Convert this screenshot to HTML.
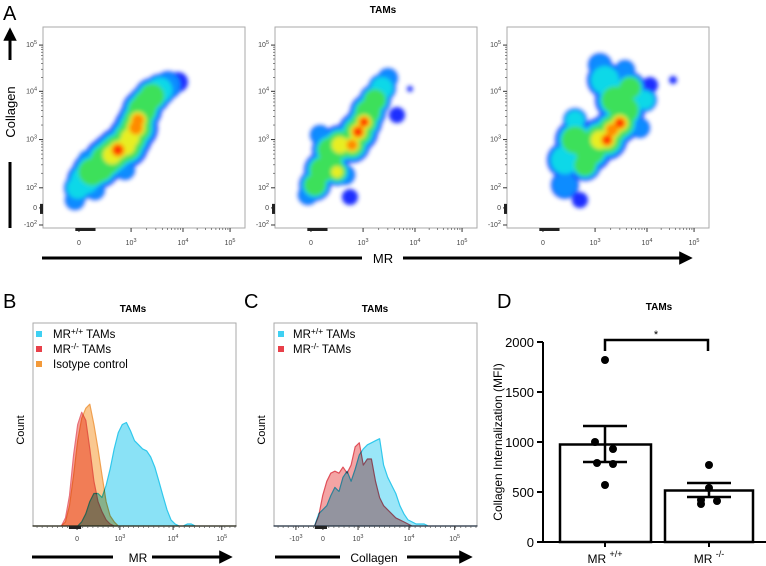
<!DOCTYPE html>
<html><head><meta charset="utf-8">
<style>
html,body{margin:0;padding:0;background:#fff;}
svg{display:block;font-family:"Liberation Sans",Arial,sans-serif;}
.tk{font-size:7px;fill:#444;}
</style></head>
<body>
<svg id="fig" width="766" height="566" viewBox="0 0 766 566" xmlns="http://www.w3.org/2000/svg">
<defs>
<filter id="soft" x="-20%" y="-20%" width="140%" height="140%"><feGaussianBlur stdDeviation="2"/></filter>
<marker id="ah" viewBox="0 0 10 10" refX="8" refY="5" markerWidth="4.5" markerHeight="4.5" orient="auto"><path d="M0,0 L10,5 L0,10 z" fill="#000"/></marker>
</defs>

<text x="3" y="20" font-size="20">A</text>
<text x="383" y="13" font-size="10" font-weight="bold" text-anchor="middle">TAMs</text>
<g>
<line x1="10" y1="60" x2="10" y2="30" stroke="#000" stroke-width="3" marker-end="url(#ah)"/>
<text transform="translate(15,112) rotate(-90)" font-size="13" text-anchor="middle">Collagen</text>
<line x1="10" y1="162" x2="10" y2="228" stroke="#000" stroke-width="3"/>
</g>
<g>
<line x1="42" y1="258" x2="362" y2="258" stroke="#000" stroke-width="3"/>
<text x="383" y="263" font-size="13" text-anchor="middle">MR</text>
<line x1="403" y1="258" x2="690" y2="258" stroke="#000" stroke-width="3" marker-end="url(#ah)"/>
</g>
<g id="panelA"></g>

<text x="3" y="308" font-size="20">B</text>
<text x="133" y="312" font-size="10" font-weight="bold" text-anchor="middle">TAMs</text>
<text transform="translate(24,430) rotate(-90)" font-size="11" text-anchor="middle">Count</text>
<g id="panelB"></g>
<g font-size="11.5">
<rect x="36" y="331" width="6" height="6" fill="#3fd0f2"/>
<text x="53" y="338">MR<tspan dy="-4" font-size="8.5">+/+</tspan><tspan dy="4"> TAMs</tspan></text>
<rect x="36" y="346" width="6" height="6" fill="#e8404a"/>
<text x="53" y="353">MR<tspan dy="-4" font-size="8.5">-/-</tspan><tspan dy="4"> TAMs</tspan></text>
<rect x="36" y="361" width="6" height="6" fill="#f39a3a"/>
<text x="53" y="368">Isotype control</text>
</g>
<g>
<line x1="32" y1="557" x2="113" y2="557" stroke="#000" stroke-width="3"/>
<text x="138" y="562" font-size="12" text-anchor="middle">MR</text>
<line x1="152" y1="557" x2="230" y2="557" stroke="#000" stroke-width="3" marker-end="url(#ah)"/>
</g>

<text x="244" y="308" font-size="20">C</text>
<text x="375" y="312" font-size="10" font-weight="bold" text-anchor="middle">TAMs</text>
<text transform="translate(265,430) rotate(-90)" font-size="11" text-anchor="middle">Count</text>
<g id="panelC"></g>
<g font-size="11.5">
<rect x="278" y="331" width="6" height="6" fill="#3fd0f2"/>
<text x="293" y="338">MR<tspan dy="-4" font-size="8.5">+/+</tspan><tspan dy="4"> TAMs</tspan></text>
<rect x="278" y="346" width="6" height="6" fill="#e8404a"/>
<text x="293" y="353">MR<tspan dy="-4" font-size="8.5">-/-</tspan><tspan dy="4"> TAMs</tspan></text>
</g>
<g>
<line x1="275" y1="557" x2="340" y2="557" stroke="#000" stroke-width="3"/>
<text x="374" y="562" font-size="12" text-anchor="middle">Collagen</text>
<line x1="407" y1="557" x2="470" y2="557" stroke="#000" stroke-width="3" marker-end="url(#ah)"/>
</g>

<text x="497" y="308" font-size="20">D</text>
<text x="659" y="310" font-size="10" font-weight="bold" text-anchor="middle">TAMs</text>
<text transform="translate(502,442) rotate(-90)" font-size="12" text-anchor="middle">Collagen Internalization (MFI)</text>
<g id="panelD"></g>
</svg>

<script>
var NS='http://www.w3.org/2000/svg';
function mk(tag,attrs,parent){var e=document.createElementNS(NS,tag);for(var k in attrs)e.setAttribute(k,attrs[k]);if(parent)parent.appendChild(e);return e;}

/* Panel A density data (channel coords 0..1) [x, y, radius, density] */
var densityPlot1=[[.158,.139,.050,.1],[.173,.199,.069,.2],[.208,.239,.089,.3],[.243,.279,.099,.45],[.282,.299,.099,.6],[.312,.338,.109,.65],[.342,.363,.109,.8],[.371,.388,.109,.95],[.411,.408,.109,.8],[.431,.448,.109,.7],[.460,.498,.109,.9],[.470,.537,.099,.85],[.490,.587,.099,.6],[.510,.622,.089,.6],[.540,.657,.089,.4],[.579,.687,.079,.25],[.619,.711,.069,.15],[.668,.726,.050,.05],[.257,.189,.050,.1],[.223,.338,.050,.1],[.406,.289,.050,.1]];
var densityPlot2=[[.163,.164,.05,.15],[.198,.214,.079,.45],[.233,.289,.089,.6],[.272,.313,.089,.55],[.307,.279,.069,.7],[.272,.388,.089,.5],[.322,.413,.099,.7],[.381,.413,.089,.9],[.411,.478,.099,.95],[.441,.527,.089,1.0],[.460,.577,.089,.6],[.495,.637,.079,.5],[.530,.697,.069,.3],[.559,.746,.050,.15],[.371,.154,.040,0],[.604,.562,.040,0],[.668,.692,.015,0],[.223,.463,.050,.1],[.347,.264,.050,.1]];
var densityPlot3=[[.287,.214,.069,.15],[.287,.338,.089,.3],[.337,.438,.099,.4],[.386,.313,.079,.45],[.411,.388,.109,.6],[.460,.438,.109,.75],[.495,.438,.099,.95],[.520,.488,.099,.85],[.559,.522,.099,1.0],[.584,.587,.099,.6],[.535,.637,.099,.45],[.609,.697,.079,.45],[.485,.736,.089,.3],[.460,.811,.059,.1],[.584,.786,.050,.1],[.683,.637,.059,.25],[.708,.711,.040,.05],[.361,.139,.040,0],[.822,.736,.020,0],[.658,.498,.050,.1],[.337,.537,.059,.2]];
var densityLevels=['#1a2dff','#0a8cff','#10d8e8','#3ee05a','#e8ee20','#ff8a00','#ff2a00'];
var densityThresholds=[0,.1,.2,.35,.7,.82,.92];
var densityRadiusFactor=[1,.88,.78,.68,.42,.3,.2];
var scatterXTickLabels=['0','10^3','10^4','10^5'];
var scatterXTickVals=[.178,.436,.693,.926];
var scatterYTickLabels=['-10^2','0','10^2','10^3','10^4','10^5'];
var scatterYTickVals=[.015,.10,.20,.44,.68,.91];

/* Histograms (channel 0..1, bins step 0.02 from start) */
var histStep=0.02;
var histBStart=0.14;
var histBCyan=[0,0,0,0,0,.02,.06,.12,.16,.16,.14,.2,.28,.38,.46,.5,.51,.47,.42,.4,.38,.37,.34,.29,.22,.15,.08,.03,.01,0,0,.01,.01,0,0];
var histBRed=[0,.04,.15,.35,.5,.56,.52,.38,.22,.12,.07,.03,.01,0];
var histBOrange=[0,.02,.1,.25,.42,.53,.58,.6,.5,.38,.25,.12,.05,.02,0];
var histBTickLabels=['0','10^3','10^4','10^5'];
var histBTickVals=[.217,.428,.69,.93];
var histCStart=0.20;
var histCCyan=[0,.06,.08,.10,.15,.19,.17,.24,.27,.22,.28,.35,.38,.4,.41,.42,.43,.3,.24,.2,.16,.1,.06,.03,.02,.01,.01,.01,0];
var histCRed=[0,.05,.15,.22,.26,.27,.26,.29,.26,.3,.39,.41,.3,.33,.33,.22,.14,.1,.08,.06,.04,.03,.02,.01,0];
var histCTickLabels=['-10^3','0','10^3','10^4','10^5'];
var histCTickVals=[.108,.241,.414,.665,.89];

/* Panel D bar chart */
var barCategories=['+/+','-/-'];
var barMeans=[975,515];
var barSemLow=[800,450];
var barSemHigh=[1160,590];
var pointsWT=[1820,1000,930,790,780,570];
var pointsKO=[770,540,420,410,380];
var yTicks=[0,500,1000,1500,2000];

function tickText(g,x,y,lab,anchor){
  var t=mk('text',{x:x,y:y,'class':'tk','text-anchor':anchor},g);
  
  
  var p=lab.split('^');
  if(p.length===1){t.textContent=p[0];}
  else{var a=mk('tspan',{},t);a.textContent=p[0];var b=mk('tspan',{dy:-3,'font-size':5.5},t);b.textContent=p[1];}
}

function scatter(parent,left,data,idx){
  var top=27,w=202,h=201;
  var g=mk('g',{},parent);
  
  
  var sx=function(c){return left+c*w;}, sy=function(c){return top+h-c*h;};
  var fr=mk('rect',{x:left,y:top,width:w,height:h,fill:'#fff',stroke:'#aaa','stroke-width':1},g);
  
  
  var dg=mk('g',{filter:'url(#soft)'},g);
  
  
  for(var k=0;k<densityLevels.length;k++){
    data.forEach(function(b){
      if(b[3]>=densityThresholds[k]-1e-9){
        var r=b[2]*w*densityRadiusFactor[k];
        var c=mk('circle',{cx:sx(b[0]),cy:sy(b[1]),r:r,fill:densityLevels[k]},dg);
        
        
      }
    });
  }
  scatterXTickVals.forEach(function(v,i){
    mk('line',{x1:sx(v),x2:sx(v),y1:top+h,y2:top+h+4,stroke:'#333','stroke-width':1},g);
    tickText(g,sx(v),top+h+17,scatterXTickLabels[i],'middle');
    if(i>1){for(var m=2;m<10;m++){var xv=scatterXTickVals[i-1]+(v-scatterXTickVals[i-1])*Math.log10(m);mk('line',{x1:sx(xv),x2:sx(xv),y1:top+h,y2:top+h+2,stroke:'#555','stroke-width':.7},g);}}
  });
  mk('rect',{x:sx(.16),y:top+h,width:.10*w,height:3,fill:'#222'},g);
  scatterYTickVals.forEach(function(v,i){
    mk('line',{x1:left-4,x2:left,y1:sy(v),y2:sy(v),stroke:'#333','stroke-width':1},g);
    tickText(g,left-6,sy(v)+2,scatterYTickLabels[i],'end');
    if(i>2){for(var m=2;m<10;m++){var yv=scatterYTickVals[i-1]+(v-scatterYTickVals[i-1])*Math.log10(m);mk('line',{x1:left-2,x2:left,y1:sy(yv),y2:sy(yv),stroke:'#555','stroke-width':.7},g);}}
  });
  mk('rect',{x:left-3,y:sy(.12),width:3,height:.05*h,fill:'#222'},g);
}
var pA=document.getElementById('panelA');
scatter(pA,43,densityPlot1,1);
scatter(pA,275,densityPlot2,2);
scatter(pA,507,densityPlot3,3);

function hist(parent,left,series,colors,fills,names,start,tv,tl,idx){
  var top=323,w=203,h=203;
  var g=mk('g',{},parent);
  
  
  var sx=function(c){return left+c*w;}, sy=function(v){return top+h-v*h;};
  var fr=mk('rect',{x:left,y:top,width:w,height:h,fill:'#fff',stroke:'#aaa','stroke-width':1},g);
  
  
  series.forEach(function(s,si){
    var d='M'+sx(0)+','+sy(0)+' L'+sx(start)+','+sy(0);
    s.forEach(function(v,i){d+=' L'+sx(start+i*histStep).toFixed(1)+','+sy(v).toFixed(1);});
    d+=' L'+sx(1)+','+sy(0)+' Z';
    var p=mk('path',{d:d,fill:fills[si],stroke:colors[si],'stroke-width':1.2,'stroke-linejoin':'round',style:'mix-blend-mode:multiply'},g);
    
    
  });
  tv.forEach(function(v,i){
    mk('line',{x1:sx(v),x2:sx(v),y1:top+h,y2:top+h+4,stroke:'#333','stroke-width':1},g);
    tickText(g,sx(v),top+h+15,tl[i],'middle');
  });
  for(var c=0.02;c<1;c+=0.025){mk('line',{x1:sx(c),x2:sx(c),y1:top+h,y2:top+h+2,stroke:'#555','stroke-width':.7},g);}
  mk('rect',{x:sx(tv[tl.indexOf('0')]-.04),y:top+h,width:.06*w,height:3,fill:'#222'},g);
}
hist(document.getElementById('panelB'),33,[histBRed,histBOrange,histBCyan],['#e8707a','#f0a050','#30c8ec'],['#f6a098','#fac890','#8ae2f6'],['mr-ko-histogram','isotype-histogram','mr-wt-histogram'],histBStart,histBTickVals,histBTickLabels,'b');
hist(document.getElementById('panelC'),274,[histCRed,histCCyan],['#e0505a','#30c8ec'],['#f4a4a4','#9ae6f8'],['mr-ko-histogram','mr-wt-histogram'],histCStart,histCTickVals,histCTickLabels,'c');

(function(){
  var g=document.getElementById('panelD');
  var y0=542;
  var sy=function(v){return y0-v*0.1;};
  var barLeft=[560,665], barW=[91,88];
  var centers=[605,709];
  var ax=mk('line',{x1:543,x2:543,y1:sy(0),y2:sy(2000),stroke:'#000','stroke-width':2},g);
  
  
  var xa=mk('line',{x1:542,x2:766,y1:sy(0),y2:sy(0),stroke:'#000','stroke-width':2},g);
  
  
  yTicks.forEach(function(v){
    mk('line',{x1:537,x2:543,y1:sy(v),y2:sy(v),stroke:'#000','stroke-width':2},g);
    var t=mk('text',{x:534,y:sy(v)+5,'font-size':13,'text-anchor':'end'},g);
    
    
    t.textContent=v;
  });
  var pts=[pointsWT,pointsKO];
  var offs=[[0,-10,8,-8,8,0],[0,0,-8,8,-8]];
  barCategories.forEach(function(cat,i){
    var b=mk('rect',{x:barLeft[i],y:sy(barMeans[i]),width:barW[i],height:sy(0)-sy(barMeans[i]),fill:'#fff',stroke:'#000','stroke-width':2.5},g);
    
    
    var c=centers[i];
    var e=mk('path',{d:'M'+c+','+sy(barSemLow[i])+'V'+sy(barSemHigh[i])+'M'+(c-22)+','+sy(barSemHigh[i])+'H'+(c+22)+'M'+(c-22)+','+sy(barSemLow[i])+'H'+(c+22),stroke:'#000','stroke-width':2.5,fill:'none'},g);
    
    
    pts[i].forEach(function(v,j){
      var p=mk('circle',{cx:c+offs[i][j],cy:sy(v),r:4,fill:'#000'},g);
      
      
    });
    mk('line',{x1:c,x2:c,y1:sy(0),y2:sy(0)+5,stroke:'#000','stroke-width':2},g);
    var t=mk('text',{x:c,y:563,'font-size':12,'text-anchor':'middle'},g);
    
    
    var a=mk('tspan',{},t);a.textContent='MR ';
    var s=mk('tspan',{dy:-6,'font-size':9},t);s.textContent=cat;
  });
  var br=mk('path',{d:'M605,351V340H708V351',stroke:'#000','stroke-width':2.5,fill:'none'},g);
  
  
  var st=mk('text',{x:656,y:338,'font-size':11,'text-anchor':'middle'},g);
  
  
  st.textContent='*';
})();
</script>
</body></html>
